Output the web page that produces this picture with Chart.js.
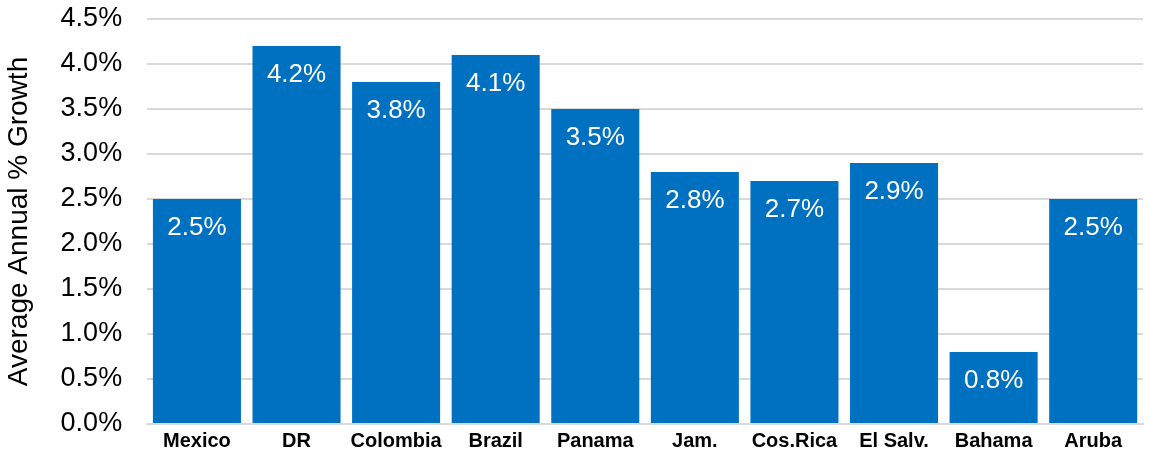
<!DOCTYPE html>
<html>
<head>
<meta charset="utf-8">
<script src="https://cdn.jsdelivr.net/npm/chart.js@4/dist/chart.umd.min.js"></script>
<style>
  html, body { margin: 0; padding: 0; background: #ffffff; }
  #wrap { width: 1159px; height: 454px; position: relative; }
</style>
</head>
<body>
<div id="wrap"><canvas id="c"></canvas></div>
<script>
// Average annual growth by country (percent)
const countries = ["Mexico", "DR", "Colombia", "Brazil", "Panama", "Jam.", "Cos.Rica", "El Salv.", "Bahama", "Aruba"];
const growth = [2.5, 4.2, 3.8, 4.1, 3.5, 2.8, 2.7, 2.9, 0.8, 2.5];
const yTicks = [0, 0.5, 1, 1.5, 2, 2.5, 3, 3.5, 4, 4.5];
const yTitle = "Average Annual % Growth";

const BAR_BLUE = "#0070C0";
const FONT = "'Liberation Sans', Arial, sans-serif";

// Writes each bar's value in white just inside its top edge
const valueLabels = {
  id: "valueLabels",
  afterDatasetsDraw(chart) {
    const ctx = chart.ctx;
    const meta = chart.getDatasetMeta(0);
    ctx.save();
    ctx.fillStyle = "#ffffff";
    ctx.font = "26px " + FONT;
    ctx.textAlign = "center";
    ctx.textBaseline = "middle";
    meta.data.forEach((bar, i) => {
      const v = chart.data.datasets[0].data[i];
      ctx.fillText(v.toFixed(1) + "%", bar.x, bar.y + 29);
    });
    ctx.restore();
  }
};

new Chart(document.getElementById("c"), {
  type: "bar",
  data: {
    labels: countries,
    datasets: [{
      data: growth,
      backgroundColor: BAR_BLUE,
      borderWidth: 0,
      barPercentage: 0.884,
      categoryPercentage: 1.0
    }]
  },
  options: {
    responsive: true,
    maintainAspectRatio: false,
    animation: false,
    layout: { padding: { top: 19, right: 16, bottom: 0, left: 2 } },
    plugins: {
      legend: { display: false },
      tooltip: { enabled: false }
    },
    scales: {
      x: {
        grid: { display: false, drawTicks: false },
        border: { display: true, color: "#d9d9d9", width: 2 },
        afterFit(axis) { axis.height = 30; },
        ticks: {
          color: "#000000",
          padding: 5,
          maxRotation: 0,
          font: { family: FONT, size: 20, weight: "bold" }
        }
      },
      y: {
        min: 0,
        max: 4.5,
        afterBuildTicks(axis) {
          axis.ticks = yTicks.map(v => ({ value: v }));
        },
        afterFit(axis) { axis.paddingTop = 0; axis.paddingBottom = 0; },
        grid: { color: "#d9d9d9", lineWidth: 2, drawTicks: false },
        border: { display: false },
        ticks: {
          color: "#000000",
          padding: 25,
          font: { family: FONT, size: 27 },
          callback: v => v.toFixed(1) + "%"
        },
        title: {
          display: true,
          text: yTitle,
          color: "#000000",
          padding: { top: 0, bottom: 0 },
          font: { family: FONT, size: 28 }
        }
      }
    }
  },
  plugins: [valueLabels]
});
</script>
</body>
</html>
